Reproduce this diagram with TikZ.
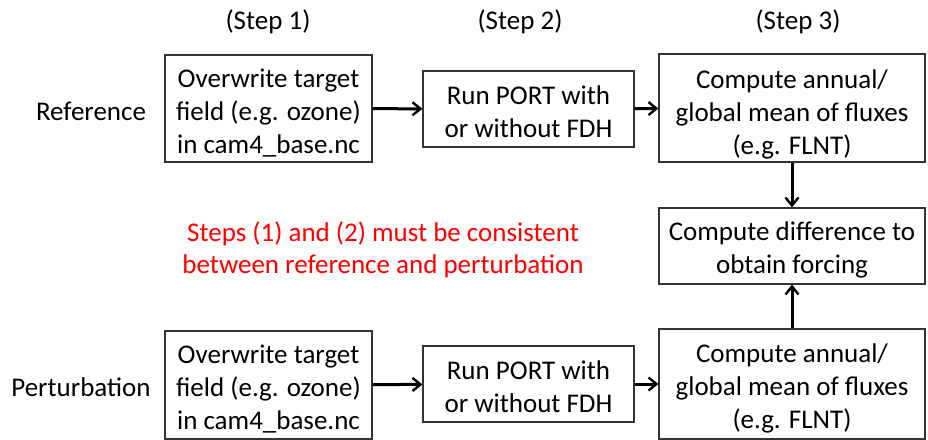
\documentclass[tikz,border=0pt]{standalone}
\usepackage{fontspec}
\setmainfont{Carlito}
\usetikzlibrary{arrows.meta}
\begin{document}
\begin{tikzpicture}[x=1pt,y=-1pt,
  box/.style={draw=black!80,line width=1.2pt,inner sep=0pt},
  txt/.style={align=center,inner sep=0pt,font=\fontsize{27}{33}\selectfont},
  lbl/.style={align=center,font=\fontsize{27}{32}\selectfont},
  conn/.style={line width=3pt,-{Straight Barb[length=8pt,width=13pt,line width=2.4pt]}}]
\useasboundingbox (0,0) rectangle (928,439);
\node[lbl] (s1) at (268,22) {(Step 1)};
\node[lbl] (s2) at (520,22) {(Step 2)};
\node[lbl] (s3) at (798,22) {(Step 3)};
\node[lbl] (ref) at (91,111) {Reference};
\node[lbl] (per) at (81,387) {Perturbation};
\node[box,minimum width=207pt,minimum height=107pt] (a1) at (268.5,108.5) {};
\node[txt] (a1t) at ([yshift=-5pt]a1.center) {Overwrite target\\field (e.g. ozone)\\in cam4\_base.nc};
\node[box,minimum width=211pt,minimum height=76pt] (a2) at (528.5,109) {};
\node[txt] (a2t) at ([yshift=-3pt]a2.center) {Run PORT with\\or without FDH};
\node[box,minimum width=266pt,minimum height=108pt] (a3) at (792,108) {};
\node[txt] (a3t) at ([yshift=-6pt]a3.center) {Compute annual/\\global mean of fluxes\\(e.g. FLNT)};
\node[box,minimum width=266pt,minimum height=76pt] (d) at (792,246) {};
\node[txt] (dt) at ([yshift=-4pt]d.center) {Compute difference to\\obtain forcing};
\node[box,minimum width=207pt,minimum height=108pt] (b1) at (268.5,385) {};
\node[txt] (b1t) at ([yshift=-4pt]b1.center) {Overwrite target\\field (e.g. ozone)\\in cam4\_base.nc};
\node[box,minimum width=211pt,minimum height=76pt] (b2) at (528.5,384) {};
\node[txt] (b2t) at ([yshift=-3pt]b2.center) {Run PORT with\\or without FDH};
\node[box,minimum width=266pt,minimum height=110pt] (b3) at (792,384) {};
\node[txt] (b3t) at ([yshift=-4pt]b3.center) {Compute annual/\\global mean of fluxes\\(e.g. FLNT)};
\node[lbl,text=red] (note) at (383,250) {Steps (1) and (2) must be consistent\\between reference and perturbation};
\draw[conn] (a1) -- (a2);
\draw[conn] (a2) -- (a3);
\draw[conn] (a3) -- (d);
\draw[conn] (b3) -- (d);
\draw[conn] (b1) -- (b2);
\draw[conn] (b2) -- (b3);
\end{tikzpicture}
\end{document}
